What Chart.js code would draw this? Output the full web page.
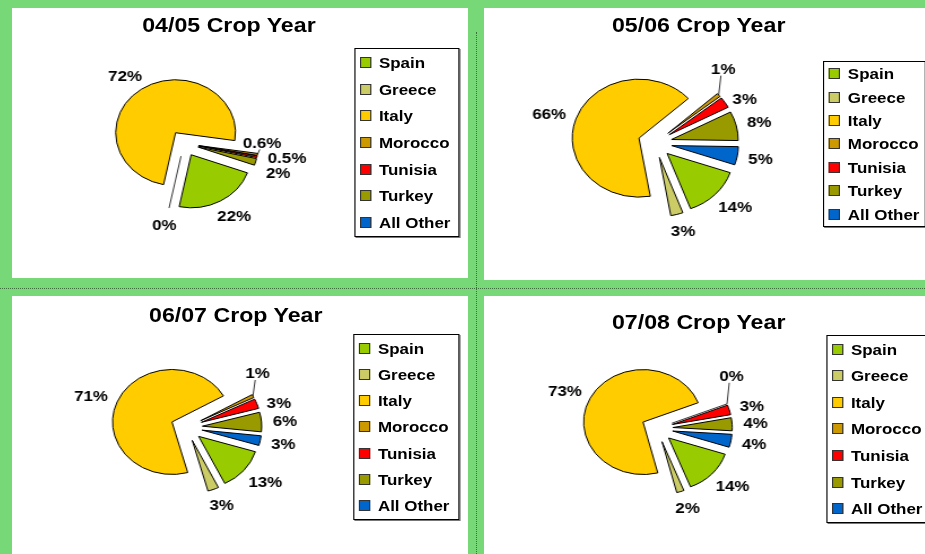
<!DOCTYPE html>
<html>
<head>
<meta charset="utf-8">
<script src="https://cdn.jsdelivr.net/npm/chart.js@4.4.1/dist/chart.umd.min.js"></script>
<style>
html, body { margin: 0; padding: 0; }
body {
    width: 925px; height: 554px; overflow: hidden; position: relative;
    background: #77d877;
    font-family: "Liberation Sans", Arial, sans-serif;
}
.panel { position: absolute; background: #fff; overflow: hidden; }
.stretch { position: absolute; left: 0; top: 0; transform: scaleX(1.13); transform-origin: 0 0; }
.stretch canvas { position: absolute; left: 0; top: 0; }
.title {
    position: absolute; width: 320px; text-align: center;
    font-weight: bold; font-size: 20.5px; line-height: 24px; color: #000;
}
.legend {
    position: absolute; box-sizing: border-box; background: #fff;
    border: 1px solid #000; box-shadow: 1px 1px 0 #777;
}
.legend .item { display: flex; align-items: center; font-weight: bold; font-size: 15px; color: #000; }
.legend .sw { width: 10px; height: 11px; box-sizing: border-box; border: 1px solid #333; margin: 0 7px 0 4px; flex: none; }
.hdots { position: absolute; left: 0; top: 288px; width: 925px; border-top: 1px dotted #3c6e3c; }
.vdots { position: absolute; left: 476px; top: 32px; height: 522px; border-left: 1px dotted #3c6e3c; }
</style>
</head>
<body>
<div class="hdots"></div>
<div class="vdots"></div>
<script>
// categories and colours
const countries = ['Spain', 'Greece', 'Italy', 'Morocco', 'Tunisia', 'Turkey', 'All Other'];
const sliceColors = ['#99cc00', '#cccc66', '#ffcc00', '#cc9900', '#ff0000', '#999900', '#0066cc'];

// titles
const cropYears = ['04/05 Crop Year', '05/06 Crop Year', '06/07 Crop Year', '07/08 Crop Year'];

// share of each origin, in percent
const share0405 = [22, 0, 72, 0.6, 0.5, 2, null];
const share0506 = [14, 3, 66, 1, 3, 8, 5];
const share0607 = [13, 3, 71, 1, 3, 6, 3];
const share0708 = [14, 2, 73, 0, 3, 4, 4];
const shares = [share0405, share0506, share0607, share0708];

// the slide is stretched sideways, so each panel is drawn narrow and scaled
const STRETCH = 1.13;

// panel box, pie centre/radius/explosion, title centre, legend box (inside panel, unstretched px)
const layouts = [
    { box: [12, 8, 456, 270],    pie: [152.2, 135.4, 53, 13],   rotation: 110, spread: 15, title: [192, 17],   legend: [302.7, 40, 93, 189] },
    { box: [484, 8, 456, 272],   pie: [151.3, 135, 59, 15],     rotation: 109, spread: 30, title: [190, 17],   legend: [300, 53, 91, 166] },
    { box: [12, 296, 456, 258],  pie: [154.5, 131.3, 52.5, 14], rotation: 107, spread: 30, title: [198, 19],   legend: [301.8, 38, 94.7, 186] },
    { box: [484, 296, 456, 258], pie: [153.2, 132.4, 52.5, 14], rotation: 108, spread: 30, title: [190, 25.7], legend: [302.7, 39, 96, 188] }
];

// pull every slice out from the centre, like an exploded Excel pie
const explodePlugin = {
    id: 'explode',
    afterDatasetsUpdate(chart, args, opts) {
        chart.getDatasetMeta(0).data.forEach(arc => {
            const mid = (arc.startAngle + arc.endAngle) / 2;
            arc.x += Math.cos(mid) * opts.distance;
            arc.y += Math.sin(mid) * opts.distance;
        });
    }
};

// percent labels outside the slices, moved apart when they collide
const pctLabelPlugin = {
    id: 'pctLabels',
    afterDatasetsDraw(chart, args, opts) {
        const ctx = chart.ctx;
        const values = chart.data.datasets[0].data;
        const arcs = chart.getDatasetMeta(0).data;
        const lineH = opts.lineHeight;
        ctx.save();
        ctx.font = opts.font;
        ctx.strokeStyle = '#000';
        ctx.lineWidth = 0.8;

        const items = [];
        arcs.forEach((arc, i) => {
            const v = values[i];
            if (v === null || v === undefined) return;
            const mid = (arc.startAngle + arc.endAngle) / 2;
            const cos = Math.cos(mid), sin = Math.sin(mid);
            const r = arc.outerRadius;
            const tipX = arc.x + cos * r, tipY = arc.y + sin * r;
            if (v === 0) {
                // an empty slice still shows as a single edge
                ctx.beginPath();
                ctx.moveTo(arc.x, arc.y);
                ctx.lineTo(tipX, tipY);
                ctx.stroke();
            }
            const text = v + '%';
            const w = ctx.measureText(text).width;
            const ax = arc.x + cos * (r + opts.gap);
            const ay = arc.y + sin * (r + opts.gap);
            const y = ay + sin * lineH / 2;
            items.push({ text, w, v, x: ax + cos * w / 2, y, y0: y, tipX, tipY });
        });

        const sorted = items.slice().sort((a, b) => a.y0 - b.y0);
        for (let k = 0; k < 200; k++) {
            let clean = true;
            for (let i = 0; i < sorted.length; i++) {
                for (let j = i + 1; j < sorted.length; j++) {
                    const a = sorted[i], b = sorted[j];
                    if (Math.abs(a.x - b.x) >= (a.w + b.w) / 2 + 2) continue;
                    const gapNow = b.y - a.y;
                    if (gapNow >= lineH + 1) continue;
                    clean = false;
                    const need = opts.spread - gapNow;
                    // the smaller slice gives way more
                    const shareA = (b.v + 0.1) / (a.v + b.v + 0.2);
                    a.y -= need * shareA;
                    b.y += need * (1 - shareA);
                }
            }
            if (clean) break;
        }

        items.forEach(it => {
            if (Math.abs(it.y - it.y0) > lineH) {
                // a label pushed well away sits over its slice tip on a leader line
                it.x = it.tipX + 4;
                const up = it.y < it.tipY;
                ctx.beginPath();
                ctx.moveTo(it.tipX, it.tipY);
                ctx.lineTo(it.x - 2, up ? it.y + lineH / 2 : it.y - lineH / 2);
                ctx.stroke();
            }
            ctx.fillStyle = '#000';
            ctx.textAlign = 'center';
            ctx.textBaseline = 'middle';
            ctx.fillText(it.text, it.x, it.y + 1);
        });
        ctx.restore();
    }
};

// padding that puts the chart-area centre at c inside [0, size]
function padFor(c, size) {
    return 2 * c <= size ? [0, size - 2 * c] : [2 * c - size, 0];
}

function buildLegend(el, height) {
    const itemH = (height - 2) / countries.length;
    countries.forEach((name, i) => {
        const item = document.createElement('div');
        item.className = 'item';
        item.style.height = itemH + 'px';
        const sw = document.createElement('span');
        sw.className = 'sw';
        sw.style.background = sliceColors[i];
        const label = document.createElement('span');
        label.textContent = name;
        item.appendChild(sw);
        item.appendChild(label);
        el.appendChild(item);
    });
}

layouts.forEach((lay, n) => {
    const [left, top, width, height] = lay.box;
    const panel = document.createElement('div');
    panel.className = 'panel';
    panel.style.left = left + 'px';
    panel.style.top = top + 'px';
    panel.style.width = width + 'px';
    panel.style.height = height + 'px';
    document.body.appendChild(panel);

    const wU = Math.round(width / STRETCH);
    const inner = document.createElement('div');
    inner.className = 'stretch';
    inner.style.width = wU + 'px';
    inner.style.height = height + 'px';
    panel.appendChild(inner);

    const canvas = document.createElement('canvas');
    canvas.width = wU;
    canvas.height = height;
    inner.appendChild(canvas);

    const title = document.createElement('div');
    title.className = 'title';
    title.textContent = cropYears[n];
    title.style.left = (lay.title[0] - 160) + 'px';
    title.style.top = (lay.title[1] - 12) + 'px';
    inner.appendChild(title);

    const legend = document.createElement('div');
    legend.className = 'legend';
    legend.style.left = lay.legend[0] + 'px';
    legend.style.top = lay.legend[1] + 'px';
    legend.style.width = lay.legend[2] + 'px';
    legend.style.height = lay.legend[3] + 'px';
    buildLegend(legend, lay.legend[3]);
    inner.appendChild(legend);

    const [cx, cy, radius, explode] = lay.pie;
    const [padL, padR] = padFor(cx, wU);
    const [padT, padB] = padFor(cy, height);

    new Chart(canvas, {
        type: 'pie',
        data: {
            labels: countries,
            datasets: [{
                data: shares[n],
                backgroundColor: sliceColors,
                borderColor: '#000',
                borderWidth: 1,
                hoverOffset: 0
            }]
        },
        options: {
            responsive: false,
            animation: false,
            events: [],
            rotation: lay.rotation,
            radius: radius,
            layout: { padding: { left: padL, right: padR, top: padT, bottom: padB } },
            plugins: {
                legend: { display: false },
                title: { display: false },
                tooltip: { enabled: false },
                explode: { distance: explode },
                pctLabels: { font: 'bold 15px "Liberation Sans", Arial, sans-serif', lineHeight: 14, gap: 10, spread: lay.spread }
            }
        },
        plugins: [explodePlugin, pctLabelPlugin]
    });
});
</script>
</body>
</html>
